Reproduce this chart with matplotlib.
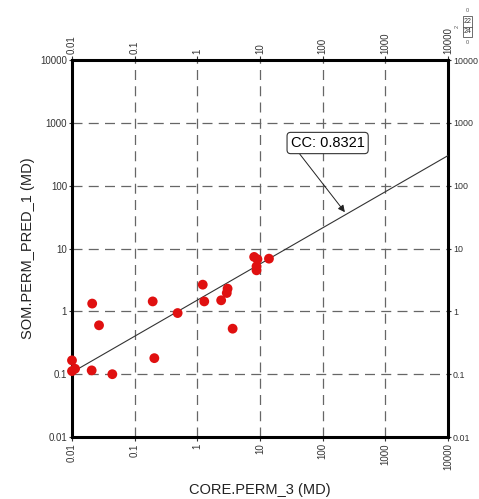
import matplotlib
matplotlib.use("Agg")
import matplotlib.pyplot as plt
import numpy as np

plt.rcParams['font.family'] = ['Liberation Sans', 'DejaVu Sans']

# core perm vs predicted perm
core_perm = [0.01, 0.0112, 0.01, 0.0206, 0.021, 0.027, 0.044, 0.194, 0.206, 0.485,
             1.22, 1.29, 2.4, 3.04, 2.95, 3.66, 8.07, 9.1, 8.8, 8.8, 13.9]
pred_perm = [0.166, 0.122, 0.112, 0.115, 1.33, 0.6, 0.1, 1.44, 0.18, 0.94,
             2.66, 1.44, 1.5, 2.3, 1.96, 0.53, 7.35, 6.76, 5.2, 4.5, 6.9]

# fitted line  y = a * x^b
fit_a = 1.51
fit_b = 0.575
cc_text = "CC: 0.8321"

ticks = [0.01, 0.1, 1, 10, 100, 1000, 10000]
tick_labels = ["0.01", "0.1", "1", "10", "100", "1000", "10000"]

fig = plt.figure(figsize=(4.79, 4.99), dpi=100)
ax = fig.add_axes([0.1503, 0.1242, 0.785, 0.7555])

ax.set_xscale("log")
ax.set_yscale("log")
ax.set_xlim(0.01, 10000)
ax.set_ylim(0.01, 10000)

ax.grid(True, which="major", color="#666666", linestyle=(0, (8, 5)), linewidth=0.9)
ax.minorticks_off()

xx = np.array([0.01, 10000])
ax.plot(xx, fit_a * xx ** fit_b, color="#333333", linewidth=0.8, zorder=3)

ax.scatter(core_perm, pred_perm, s=50, color="#e01010", edgecolors="none",
           zorder=4, clip_on=False)

ax.annotate(cc_text, xy=(226, 37.9), xytext=(120, 478), fontsize=10.5,
            ha="center", va="center",
            bbox=dict(boxstyle="round,pad=0.25", fc="white", ec="#333333", lw=0.8),
            arrowprops=dict(arrowstyle="-|>", color="#222222", lw=0.7,
                            shrinkA=0, shrinkB=0, mutation_scale=10,
                            relpos=(0.08, 0.0)),
            zorder=5)

ax.set_xticks(ticks)
ax.set_xticklabels(tick_labels, rotation=90)
ax.set_yticks(ticks)
ax.set_yticklabels(tick_labels)
ax.tick_params(axis="both", which="major", labelsize=7, colors="#333333",
               length=3, width=0.8, direction="out", pad=1.5,
               top=True, right=True, labeltop=True, labelright=True)
ax.tick_params(axis="y", which="major", right=True, length=2)
narrow = ['Liberation Sans Narrow', 'Liberation Sans', 'DejaVu Sans']
for lab in ax.get_xticklabels():
    lab.set_va("top")
for tl in ax.xaxis.get_major_ticks() + ax.yaxis.get_major_ticks():
    tl.label1.set_family(narrow)
    tl.label2.set_family(narrow)
for tl in ax.yaxis.get_major_ticks():
    tl.label2.set_fontsize(6.4)
for tl in ax.xaxis.get_major_ticks():
    tl.label2.set_rotation(90)
    tl.label2.set_va("bottom")
for sp in ax.spines.values():
    sp.set_linewidth(2.2)
    sp.set_color("black")

ax.set_xlabel("CORE.PERM_3 (MD)", fontsize=10.5, color="#222222", labelpad=9)
ax.set_ylabel("SOM.PERM_PRED_1 (MD)", fontsize=10.5, color="#222222", labelpad=4)

# small legend box top right
bx, by, bw, bh = 463 / 479, 1 - 37 / 499, 9 / 479, 21 / 499
fig.patches.append(plt.Rectangle((bx, by), bw, bh, transform=fig.transFigure,
                                 fill=False, ec="#555555", lw=0.6))
fig.lines.append(plt.Line2D([bx, bx + bw], [by + bh / 2, by + bh / 2],
                            transform=fig.transFigure, color="#555555", lw=0.6))
fig.text(bx + bw / 2, by + bh * 0.75, "22", fontsize=5, ha="center", va="center", color="#333333")
fig.text(bx + bw / 2, by + bh * 0.25, "24", fontsize=5, ha="center", va="center", color="#333333")
fig.text(bx + bw / 2, by + bh + 0.006, "0", fontsize=4, ha="center", va="bottom", color="#555555")
fig.text(bx + bw / 2, by - 0.006, "0", fontsize=4, ha="center", va="top", color="#555555")
fig.text(bx - 0.006, by + bh / 2, "2", fontsize=4, ha="right", va="center", color="#555555", rotation=90)

fig.savefig("out.png", dpi=100)
